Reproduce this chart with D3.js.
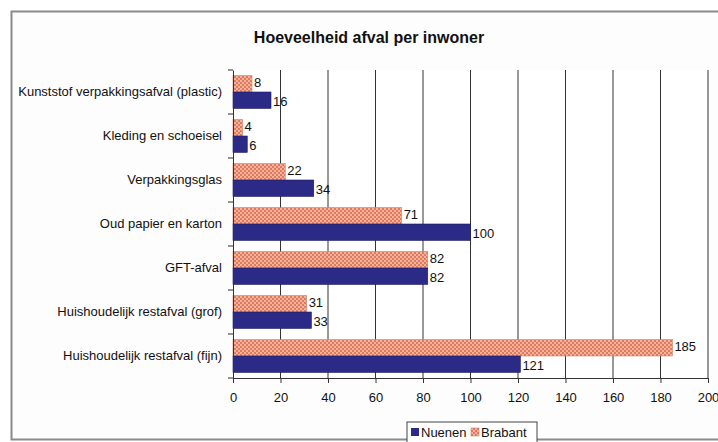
<!DOCTYPE html>
<html>
<head>
<meta charset="utf-8">
<script src="https://cdn.jsdelivr.net/npm/d3@7"></script>
<style>
	body { margin: 0; background: #fff; }
	svg text { font-family: "Liberation Sans Narrow", "Arial Narrow", "Liberation Sans", sans-serif; fill: #111; }
</style>
</head>
<body>
<svg id="chart" width="718" height="442"></svg>
<script>
const categories = [
	"Kunststof verpakkingsafval (plastic)",
	"Kleding en schoeisel",
	"Verpakkingsglas",
	"Oud papier en karton",
	"GFT-afval",
	"Huishoudelijk restafval (grof)",
	"Huishoudelijk restafval  (fijn)",
];
const nuenen = [16, 6, 34, 100, 82, 33, 121];
const brabant = [8, 4, 22, 71, 82, 31, 185];
const xTicks = [0, 20, 40, 60, 80, 100, 120, 140, 160, 180, 200];

const svg = d3.select("#chart");

// frame
svg.append("rect")
	.attr("x", 11.5).attr("y", 11.5)
	.attr("width", 720).attr("height", 428)
	.attr("fill", "#fdfdfd")
	.attr("stroke", "#8a8a8a")
	.attr("stroke-width", 2);

svg.append("text")
	.attr("x", 369).attr("y", 43)
	.attr("text-anchor", "middle")
	.attr("font-size", 16).attr("font-weight", "bold")
	.text("Hoeveelheid afval per inwoner");

const defs = svg.append("defs");
const pat = defs.append("pattern")
	.attr("id", "hatch")
	.attr("width", 4).attr("height", 4)
	.attr("patternUnits", "userSpaceOnUse");
pat.append("rect").attr("width", 4).attr("height", 4).attr("fill", "#f3b39c");
pat.append("rect").attr("width", 2).attr("height", 2).attr("fill", "#e07a5f");
pat.append("rect").attr("x", 2).attr("y", 2).attr("width", 2).attr("height", 2).attr("fill", "#e07a5f");

const pLeft = 233, pRight = 708, pTop = 70, pBottom = 378;

const x = d3.scaleLinear().domain([0, 200]).range([pLeft, pRight]);
const y = d3.scaleBand().domain(categories).range([pTop, pBottom]);
const inner = d3.scaleBand().domain(["Brabant", "Nuenen"]).range([0, y.bandwidth()]).paddingOuter(0.34);

svg.append("rect")
	.attr("x", pLeft).attr("y", pTop)
	.attr("width", pRight - pLeft).attr("height", pBottom - pTop)
	.attr("fill", "#fff");

// gridlines
svg.append("g")
	.selectAll("line")
	.data(xTicks.slice(1))
	.join("line")
	.attr("x1", (d) => x(d)).attr("x2", (d) => x(d))
	.attr("y1", pTop).attr("y2", pBottom)
	.attr("stroke", "#333")
	.attr("stroke-width", 1);

// bars
const rows = categories.map((c, i) => ({ c, nuenen: nuenen[i], brabant: brabant[i] }));

const groups = svg.append("g")
	.selectAll("g")
	.data(rows)
	.join("g")
	.attr("transform", (d) => `translate(0,${y(d.c)})`);

groups.append("rect")
	.attr("x", x(0))
	.attr("y", inner("Brabant"))
	.attr("width", (d) => x(d.brabant) - x(0))
	.attr("height", inner.bandwidth())
	.attr("fill", "url(#hatch)")
	.attr("stroke", "#c9806c")
	.attr("stroke-width", 0.6);

groups.append("rect")
	.attr("x", x(0))
	.attr("y", inner("Nuenen"))
	.attr("width", (d) => x(d.nuenen) - x(0))
	.attr("height", inner.bandwidth())
	.attr("fill", "#2b2a86")
	.attr("stroke", "#1c1b5e")
	.attr("stroke-width", 0.6);

groups.append("text")
	.attr("x", (d) => x(d.brabant) + 2)
	.attr("y", inner("Brabant") + inner.bandwidth() / 2 + 3)
	.attr("font-size", 13)
	.text((d) => d.brabant);

groups.append("text")
	.attr("x", (d) => x(d.nuenen) + 2)
	.attr("y", inner("Nuenen") + inner.bandwidth() / 2 + 6)
	.attr("font-size", 13)
	.text((d) => d.nuenen);

// y axis
const yAxis = svg.append("g")
	.attr("transform", `translate(${pLeft},0)`)
	.call(d3.axisLeft(y).tickSize(0).tickPadding(11));
yAxis.select(".domain").attr("stroke", "#333");
yAxis.selectAll("text").attr("font-size", 13);
yAxis.selectAll(".sep")
	.data(d3.range(categories.length + 1))
	.join("line")
	.attr("x1", -5).attr("x2", 0)
	.attr("y1", (i) => pTop + i * y.step()).attr("y2", (i) => pTop + i * y.step())
	.attr("stroke", "#333");

// x axis
const xAxis = svg.append("g")
	.attr("transform", `translate(0,${pBottom})`)
	.call(d3.axisBottom(x).tickValues(xTicks).tickSize(5).tickPadding(10));
xAxis.select(".domain").attr("stroke", "#333");
xAxis.selectAll("line").attr("stroke", "#333");
xAxis.selectAll("text").attr("font-size", 13);

// legend
const lg = svg.append("g").attr("transform", "translate(407,422)");
lg.append("rect")
	.attr("width", 130).attr("height", 24)
	.attr("fill", "#fff").attr("stroke", "#444");
lg.append("rect").attr("x", 4).attr("y", 6).attr("width", 8).attr("height", 8).attr("fill", "#2b2a86");
lg.append("text").attr("x", 14).attr("y", 15).attr("font-size", 13).text("Nuenen");
lg.append("rect").attr("x", 64).attr("y", 6).attr("width", 8).attr("height", 8)
	.attr("fill", "url(#hatch)").attr("stroke", "#c9806c").attr("stroke-width", 0.6);
lg.append("text").attr("x", 74).attr("y", 15).attr("font-size", 13).text("Brabant");
</script>
</body>
</html>
